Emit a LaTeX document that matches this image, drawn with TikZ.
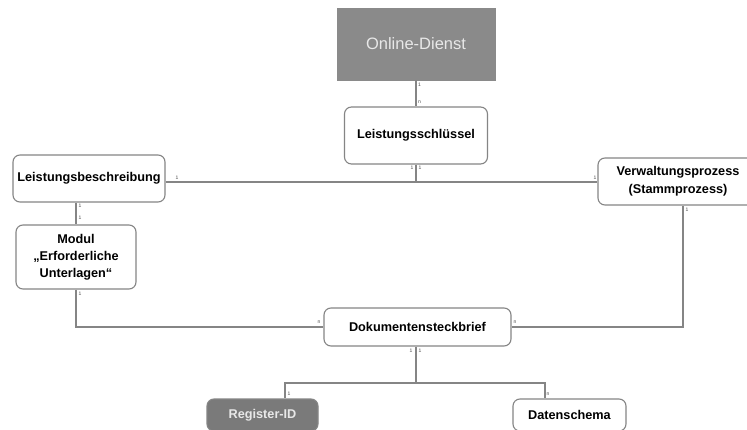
\documentclass[tikz,border=0pt]{standalone}
\usepackage{fontspec}
\setmainfont{Liberation Sans}
\usetikzlibrary{calc}
\definecolor{randgrau}{HTML}{858585}
\definecolor{fuellgrau}{HTML}{8A8A8A}
\definecolor{dunkelgrau}{HTML}{7A7A7A}
\definecolor{hellschrift}{HTML}{E8E8E8}
\tikzset{
    entity/.style={draw=randgrau, line width=1.1pt, rounded corners=7pt, fill=white, align=center, inner sep=0pt, font=\bfseries\fontsize{12.7}{17}\selectfont},
    dark/.style={fill=dunkelgrau, text=hellschrift},
    link/.style={draw=randgrau, line width=1.3pt},
    mult/.style={inner sep=0pt, text=black!70, font=\fontsize{5}{5}\selectfont}
}

\begin{document}
\begin{tikzpicture}[x=1pt,y=-1pt]
            \useasboundingbox[fill=white] (0,0) rectangle (747,430);
            \node[draw=fuellgrau, fill=fuellgrau, text=hellschrift, minimum width=158pt, minimum height=72pt, font=\fontsize{16.5}{18}\selectfont] (online) at (416,44) {Online-Dienst};
            \node[entity, minimum width=143pt, minimum height=57pt] (schluessel) at (416,135.5) {Leistungsschlüssel};
            \node[entity, minimum width=152pt, minimum height=47pt] (beschreibung) at (89,178.5) {Leistungsbeschreibung};
            \node[entity, minimum width=120pt, minimum height=64pt] (modul) at (76,257) {Modul\\„Erforderliche\\Unterlagen“};
            \node[entity, minimum width=160pt, minimum height=47pt, font=\bfseries\fontsize{12.7}{18}\selectfont] (prozess) at (678,181.5) {Verwaltungsprozess\\(Stammprozess)};
            \node[entity, minimum width=187pt, minimum height=38pt] (steckbrief) at (417.5,327) {Dokumentensteckbrief};
            \node[entity, dark, minimum width=111pt, minimum height=32pt] (register) at (262.5,415) {Register-ID};
            \node[entity, minimum width=113pt, minimum height=32pt] (schema) at (569.5,415) {Datenschema};
            \coordinate (bus) at (416,182);
            \coordinate (gabel) at (416,383);
            \draw[link] (online) -- (schluessel);
            \draw[link] (schluessel) -- (bus);
            \draw[link] (beschreibung.east |- bus) -- (prozess.west |- bus);
            \draw[link] (beschreibung.south -| modul) -- (modul);
            \draw[link] (modul) |- (steckbrief);
            \draw[link] ([xshift=5pt]prozess.south) |- (steckbrief.east);
            \draw[link] (steckbrief.south -| gabel) -- (gabel);
            \draw[link] (gabel) -| ([xshift=22.5pt]register.north);
            \draw[link] (gabel) -| ([xshift=-24.5pt]schema.north);
            \node[mult] (m1) at (419.5,85) {1};
            \node[mult] (m2) at (419.5,102) {n};
            \node[mult] (m3) at (412,168) {1};
            \node[mult] (m4) at (420,168) {1};
            \node[mult] (m5) at (177,178) {1};
            \node[mult] (m6) at (595,178) {1};
            \node[mult] (m7) at (687,210) {1};
            \node[mult] (m8) at (80,206) {1};
            \node[mult] (m9) at (80,218) {1};
            \node[mult] (m10) at (80,294) {1};
            \node[mult] (m11) at (319,322) {n};
            \node[mult] (m12) at (515,322) {n};
            \node[mult] (m13) at (411,351) {1};
            \node[mult] (m14) at (420,351) {1};
            \node[mult] (m15) at (289,394) {1};
            \node[mult] (m16) at (548,394) {n};
        \end{tikzpicture}
\end{document}
